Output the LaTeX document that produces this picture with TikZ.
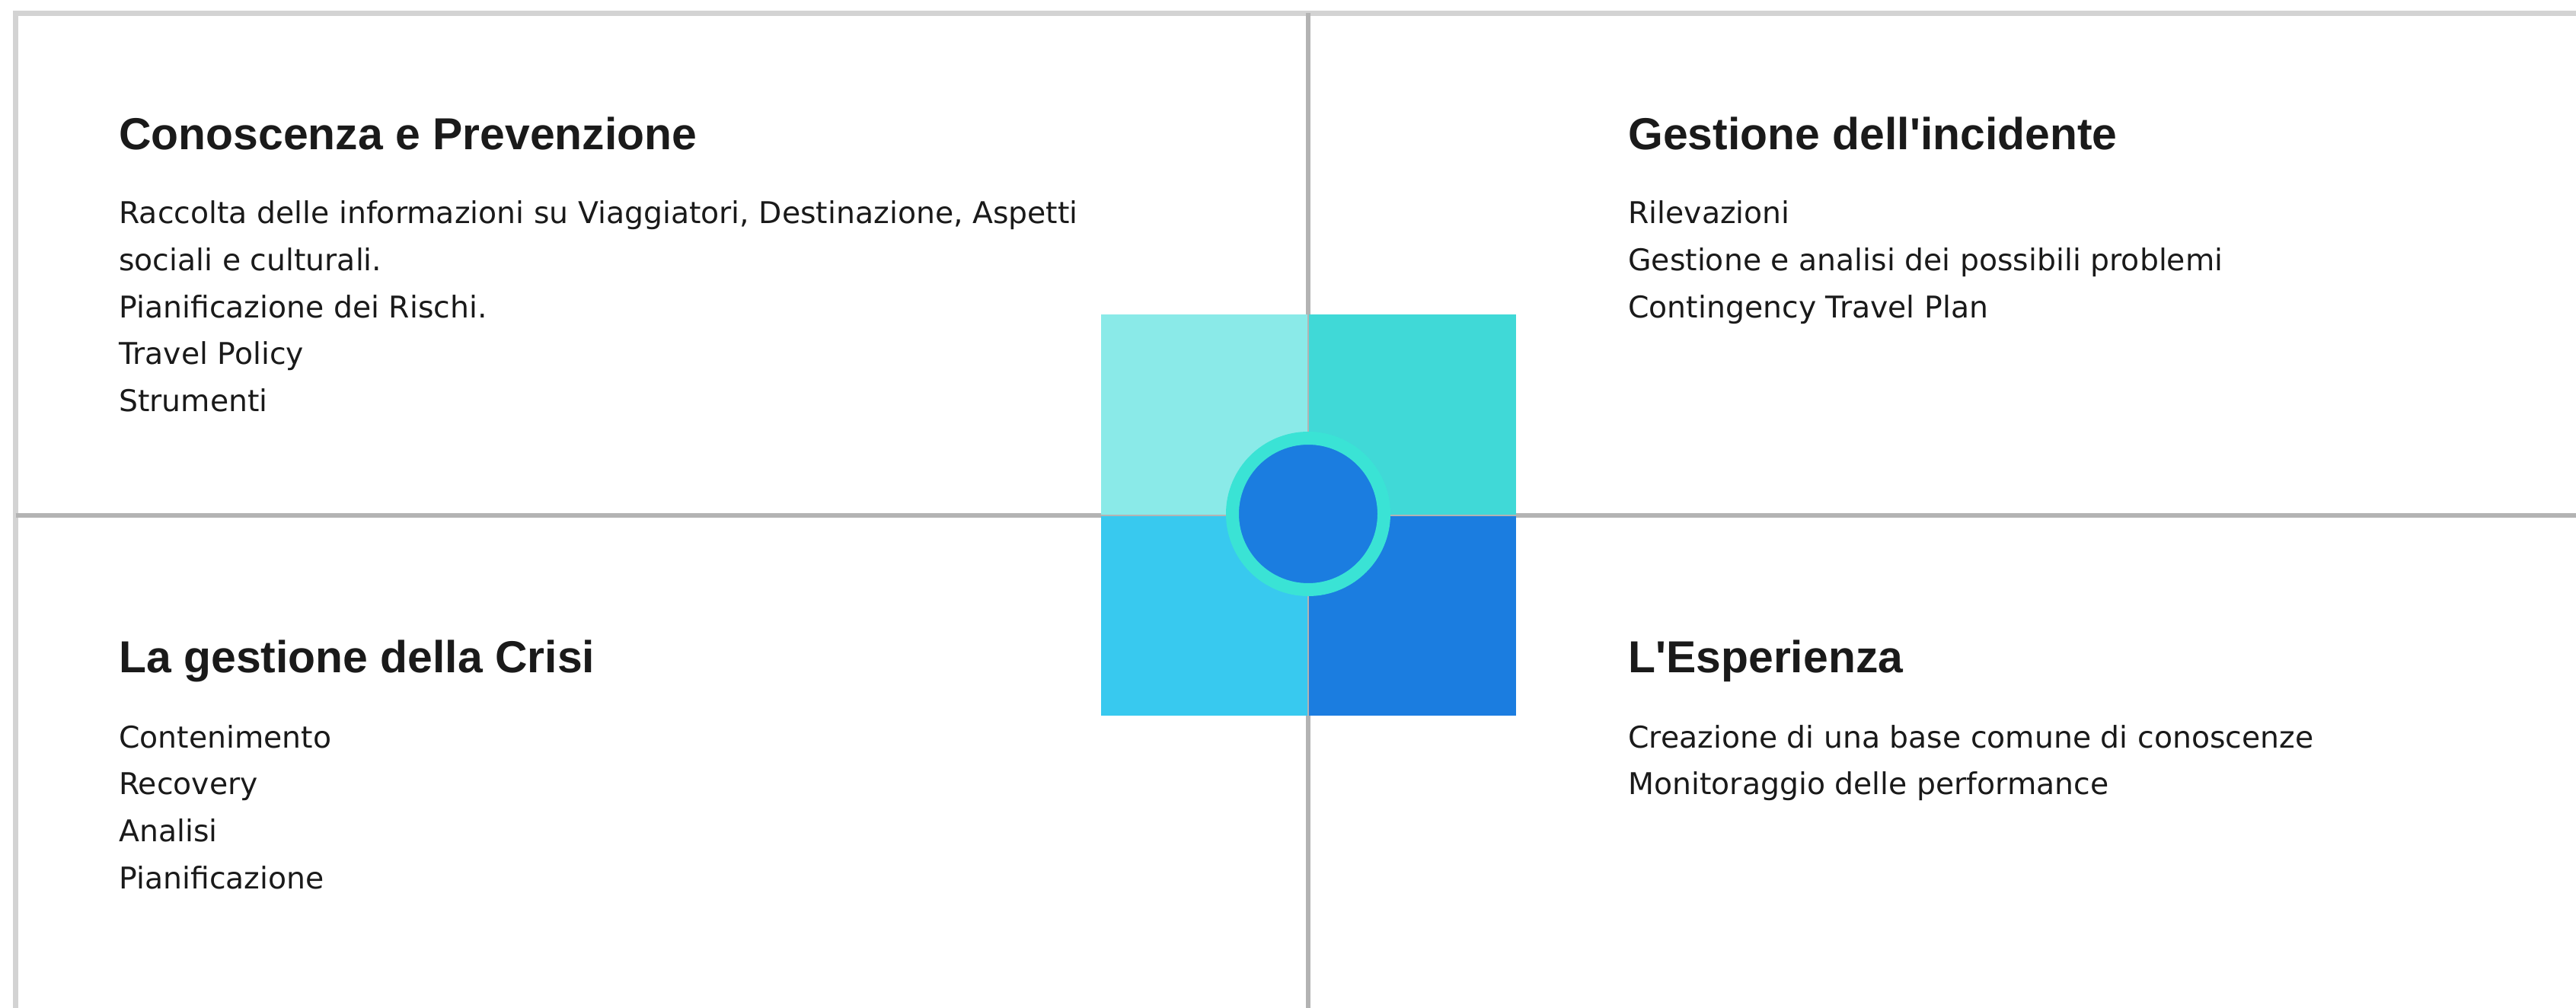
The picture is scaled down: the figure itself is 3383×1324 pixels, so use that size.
\documentclass[tikz,border=0pt]{standalone}
\usepackage{fontspec}
\setmainfont{Liberation Sans}
\newfontfamily\bodyfont{DejaVu Sans}
\definecolor{ink}{HTML}{1A1A1A}
\definecolor{framegray}{HTML}{D3D3D3}
\definecolor{divgray}{HTML}{B3B3B3}
\definecolor{quadTL}{HTML}{8AEAE8}
\definecolor{quadTR}{HTML}{40D9D7}
\definecolor{quadBL}{HTML}{38C9EF}
\definecolor{quadBR}{HTML}{1B7DE0}
\definecolor{hubring}{HTML}{3AE3D5}
\definecolor{hubcore}{HTML}{1B7DE0}
\tikzset{
  frameline/.style={draw=framegray, line width=1.4mm},
  divline/.style={draw=divgray, line width=1.3mm},
  seam/.style={draw=divgray, line width=0.3mm},
  head/.style={anchor=base west, inner sep=0pt, text=ink,
    font=\bfseries\fontsize{33.5}{40}\selectfont},
  item/.style={anchor=base west, inner sep=0pt, text=ink,
    font=\bodyfont\fontsize{22.4}{30}\selectfont},
}
\begin{document}
\begin{tikzpicture}[x=0.2mm,y=-0.2mm]
  \useasboundingbox (0,0) rectangle (3383,1324);
  % frame and dividers
  \draw[frameline] (20.5,1324) -- (20.5,17.5) -- (3383,17.5);
  \draw[divline] (1718,17.5) -- (1718,1324);
  \draw[divline] (20.5,677) -- (3383,677);
  % centre squares
  \fill[quadTL] (1446,413) rectangle (1718,677);
  \fill[quadTR] (1718,413) rectangle (1991,677);
  \fill[quadBL] (1446,677) rectangle (1718,940);
  \fill[quadBR] (1718,677) rectangle (1991,940);
  \draw[seam] (1446,677) -- (1991,677);
  \draw[seam] (1718,413) -- (1718,940);
  \node[circle, inner sep=0pt, minimum size=39.8mm, fill=hubcore,
    draw=hubring, line width=3.4mm] (hub) at (1718,675) {};
  % top left
  \node[head] (prevT) at (156,197) {Conoscenza e Prevenzione};
  \node[item] (prev1) at (156,293) {Raccolta delle informazioni su Viaggiatori, Destinazione, Aspetti};
  \node[item] (prev2) at (156,355) {sociali e culturali.};
  \node[item] (prev3) at (156,417) {Pianificazione dei Rischi.};
  \node[item] (prev4) at (156,478) {Travel Policy};
  \node[item] (prev5) at (156,540) {Strumenti};
  % top right
  \node[head] (incT) at (2138,197) {Gestione dell\textquotesingle incidente};
  \node[item] (inc1) at (2138,293) {Rilevazioni};
  \node[item] (inc2) at (2138,355) {Gestione e analisi dei possibili problemi};
  \node[item] (inc3) at (2138,417) {Contingency Travel Plan};
  % bottom left
  \node[head] (criT) at (156,883) {La gestione della Crisi};
  \node[item] (cri1) at (156,982) {Contenimento};
  \node[item] (cri2) at (156,1043) {Recovery};
  \node[item] (cri3) at (156,1105) {Analisi};
  \node[item] (cri4) at (156,1167) {Pianificazione};
  % bottom right
  \node[head] (espT) at (2138,883) {L\textquotesingle Esperienza};
  \node[item] (esp1) at (2138,982) {Creazione di una base comune di conoscenze};
  \node[item] (esp2) at (2138,1043) {Monitoraggio delle performance};
\end{tikzpicture}
\end{document}
